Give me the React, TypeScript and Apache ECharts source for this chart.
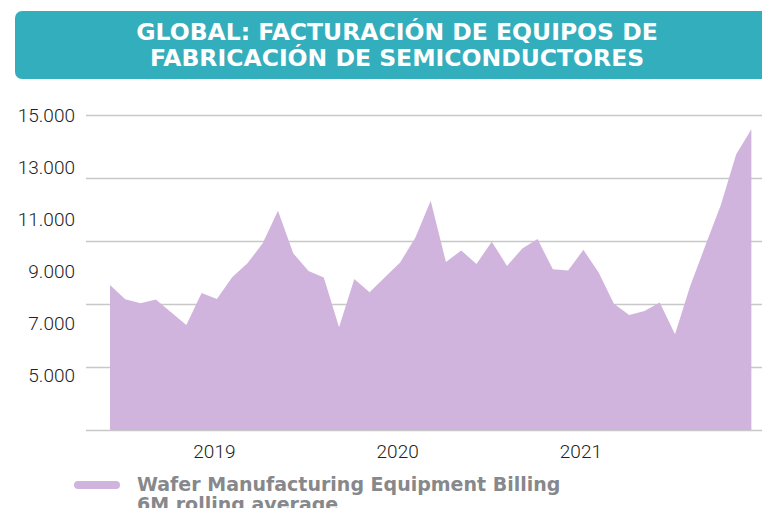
import React, { useEffect, useRef } from "react";
import * as echarts from "echarts";

const titleLines = ["GLOBAL: FACTURACIÓN DE EQUIPOS DE", "FABRICACIÓN DE SEMICONDUCTORES"];
const seriesName = "Wafer Manufacturing Equipment Billing\n6M rolling average";

// Monthly, June 2018 – December 2021
const months: string[] = [];
for (let y = 2018; y <= 2021; y++) {
  for (let m = 1; m <= 12; m++) {
    if (y === 2018 && m < 6) continue;
    months.push(`${y}-${String(m).padStart(2, "0")}`);
  }
}
const billing = [
  9600, 9150, 9020, 9140, 8740, 8330, 9350, 9160, 9850, 10290, 10930, 11960,
  10610, 10050, 9840, 8260, 9790, 9370, 9850, 10320, 11110, 12280, 10330, 10700,
  10270, 10980, 10210, 10760, 11060, 10100, 10060, 10720, 10000, 9010, 8650, 8780,
  9050, 8040, 9580, 10870, 12140, 13750, 14550,
];
const yearTicks = ["2019-01", "2020-01", "2021-01"];
const yTickLabels = [5000, 7000, 9000, 11000, 13000, 15000];

const fmt = (v: number) => String(v).replace(/\B(?=(\d{3})+(?!\d))/g, ".");

export default function App() {
  const ref = useRef<HTMLDivElement>(null);
  useEffect(() => {
    if (!ref.current) return;
    const chart = echarts.init(ref.current, undefined, { renderer: "svg" });
    const data = billing.map((v, i) => [i, v]);
    chart.setOption({
      animation: false,
      title: {
        text: titleLines.join("\n"),
        left: 397,
        top: 19,
        padding: 0,
        textAlign: "center",
        textStyle: {
          color: "#ffffff",
          fontFamily: "DejaVu Sans",
          fontWeight: "bold",
          fontSize: 23.5,
          lineHeight: 26,
        },
      },
      graphic: [
        {
          type: "rect",
          z: -1,
          shape: { x: 15, y: 11, width: 780, height: 68, r: 7 },
          style: { fill: "#33AEBD" },
        },
        {
          type: "rect",
          shape: { x: 74, y: 481, width: 46, height: 8, r: 4 },
          style: { fill: "#D1B4DE" },
        },
        {
          type: "text",
          x: 137,
          y: 474,
          style: {
            text: seriesName,
            fill: "#86888B",
            font: "bold 19px 'DejaVu Sans'",
            lineHeight: 20,
          },
        },
      ],
      grid: { left: 86, right: 0, top: 115, bottom: 86 },
      xAxis: {
        type: "value",
        min: -1.571,
        max: 43.22,
        axisLine: { show: false },
        axisTick: { show: false },
        splitLine: { show: false },
        axisLabel: {
          customValues: yearTicks.map((t) => months.indexOf(t)),
          formatter: (v: number) => months[Math.round(v)].slice(0, 4),
          fontFamily: "Roboto",
          fontWeight: 300,
          fontSize: 19,
          color: "#222222",
          margin: 12,
          padding: [0, 5, 0, 0],
        },
      },
      yAxis: [
        {
          type: "value",
          min: 5000,
          max: 15000,
          interval: 2000,
          axisLine: { show: false },
          axisTick: { show: false },
          axisLabel: { show: false },
          splitLine: { lineStyle: { color: "#C8C8C8", width: 1.3 } },
        },
        {
          type: "value",
          position: "left",
          min: 2885,
          max: 15000,
          axisLine: { show: false },
          axisTick: { show: false },
          splitLine: { show: false },
          axisLabel: {
            customValues: yTickLabels,
            formatter: (v: number) => fmt(v),
            fontFamily: "Roboto",
            fontWeight: 300,
            fontSize: 19,
            color: "#222222",
            margin: 11,
          },
        },
      ],
      series: [
        {
          name: seriesName,
          type: "line",
          yAxisIndex: 0,
          data,
          symbol: "none",
          lineStyle: { width: 0 },
          areaStyle: { color: "#D1B4DE", opacity: 1 },
          itemStyle: { color: "#D1B4DE" },
        },
      ],
    });
    return () => chart.dispose();
  }, []);
  return <div ref={ref} style={{ width: 770, height: 516, margin: -8 }} />;
}
